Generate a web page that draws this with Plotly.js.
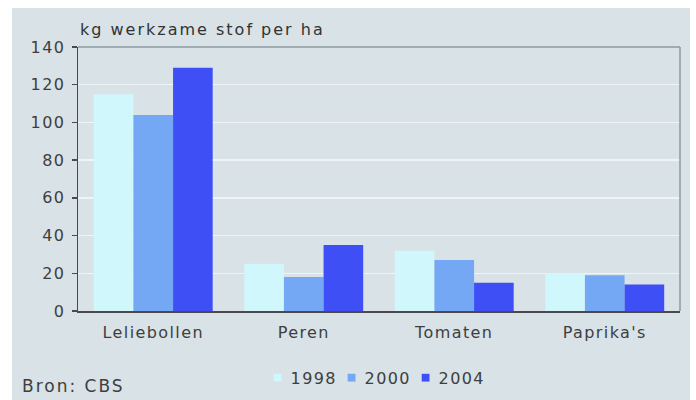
<!DOCTYPE html>
<html>
<head>
<meta charset="utf-8">
<script src="https://cdn.plot.ly/plotly-3.0.1.min.js"></script>
<style>
  html, body { margin: 0; padding: 0; background: #ffffff; width: 696px; height: 400px; overflow: hidden; }
  #chart { position: absolute; left: 12px; top: 8px; width: 678px; height: 392px; }
  .xtick text, .ytick text, text.legendtext { letter-spacing: 1.4px; }
  text.annotation-text { letter-spacing: 2px; }
  #chart .legend .scrollbox { clip-path: none !important; }
  #chart .legend .legendpoints path { transform: translate(27px, 0px) scale(0.65); }
</style>
</head>
<body>
<div id="chart"></div>
<script>
const categories = ["Leliebollen", "Peren", "Tomaten", "Paprika's"];
const years = ["1998", "2000", "2004"];
const values1998 = [115, 25, 32, 20];
const values2000 = [104, 18, 27, 19];
const values2004 = [129, 35, 15, 14];
const colors = ["#d0f7fc", "#74a8f5", "#3f4ff6"];
const yTicks = [0, 20, 40, 60, 80, 100, 120, 140];

const series = [values1998, values2000, values2004];
const traces = series.map((vals, i) => ({
  type: "bar",
  name: years[i],
  x: categories,
  y: vals,
  marker: { color: colors[i], line: { width: 0 } },
  hoverinfo: "x+y+name"
}));

const fontFamily = "DejaVu Sans, Verdana, sans-serif";
const textColor = "#3e3e3e";

const layout = {
  width: 678,
  height: 392,
  paper_bgcolor: "#d8e2e7",
  plot_bgcolor: "#d8e2e7",
  margin: { l: 66, r: 10, t: 39, b: 89, pad: 0, autoexpand: false },
  barmode: "group",
  bargap: 0.21,
  bargroupgap: 0,
  font: { family: fontFamily, size: 16, color: textColor },
  showlegend: true,
  legend: {
    orientation: "h",
    x: 0.2867, xanchor: "left",
    y: -0.253, yanchor: "middle",
    bgcolor: "rgba(0,0,0,0)",
    font: { family: fontFamily, size: 16, color: textColor },
    entrywidth: 29, entrywidthmode: "pixels",
    itemwidth: 30,
    traceorder: "normal"
  },
  xaxis: {
    type: "category",
    showline: true, linecolor: "#4a4a4a", linewidth: 1.5,
    ticks: "", showgrid: false,
    ticklabelstandoff: 6,
    tickfont: { family: fontFamily, size: 16, color: textColor },
    fixedrange: true
  },
  yaxis: {
    range: [0, 140],
    tickvals: yTicks,
    ticktext: yTicks.map(String),
    showline: true, linecolor: "#4a4a4a", linewidth: 1.5,
    ticks: "outside", ticklen: 5, tickwidth: 1.5, tickcolor: "#4a4a4a",
    ticklabelstandoff: 3,
    showgrid: true, gridcolor: "#eef4f7", gridwidth: 1.5,
    zeroline: false,
    tickfont: { family: fontFamily, size: 16, color: textColor },
    fixedrange: true
  },
  shapes: [
    { type: "line", xref: "paper", yref: "paper", x0: 0, x1: 1, y0: 1, y1: 1,
      line: { color: "#8d9ba2", width: 1.5 } },
    { type: "line", xref: "paper", yref: "paper", x0: 1, x1: 1, y0: 0, y1: 1,
      line: { color: "#8d9ba2", width: 1.5 } }
  ],
  annotations: [
    { text: "kg werkzame stof per ha", xref: "paper", yref: "paper",
      x: 0, y: 1, xanchor: "left", yanchor: "bottom", xshift: 0, yshift: 6,
      showarrow: false, font: { family: fontFamily, size: 16, color: "#333" } },
    { text: "Bron: CBS", xref: "paper", yref: "paper",
      x: 0, y: 0, xanchor: "left", yanchor: "middle", xshift: -58, yshift: -75,
      showarrow: false, font: { family: fontFamily, size: 17, color: textColor } }
  ]
};

Plotly.newPlot("chart", traces, layout, { displayModeBar: false, staticPlot: true });
</script>
</body>
</html>
